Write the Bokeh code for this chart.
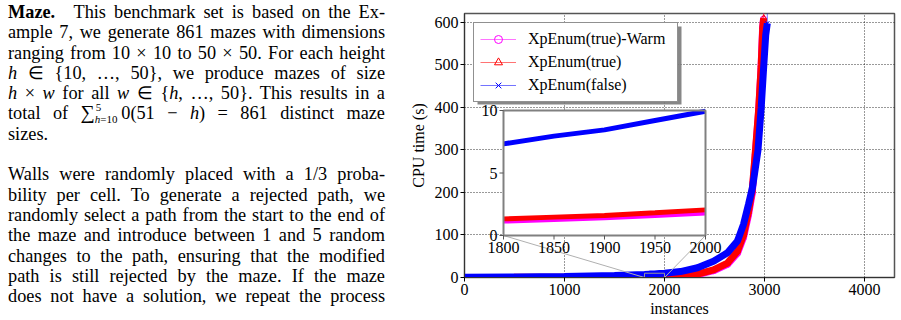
from bokeh.plotting import figure
from bokeh.models import Range1d, Legend, LegendItem, Div, FixedTicker
from bokeh.layouts import row
from bokeh.embed import file_html
from bokeh.resources import INLINE
from bokeh.core.properties import value

FONT = "Liberation Serif"

# ---------------- data ----------------
series_labels = ["XpEnum(true)-Warm", "XpEnum(true)", "XpEnum(false)"]

warm_x = [0, 500, 1000, 1500, 1800, 1850, 1900, 1950, 2000, 2160, 2330, 2490, 2630,
          2730, 2790, 2840, 2877, 2908, 2941, 2965, 2981, 2990, 2991]
warm_y = [0.08, 0.25, 0.5, 0.85, 1.15, 1.28, 1.42, 1.6, 1.79, 3.5, 7, 16, 31,
          57, 94, 147, 197, 290, 390, 490, 588, 608, 5000]

true_x = [0, 500, 1000, 1500, 1800, 1850, 1900, 1950, 2000, 2160, 2330, 2490, 2630,
          2730, 2790, 2840, 2877, 2910, 2943, 2967, 2983, 2992, 2993]
true_y = [0.1, 0.3, 0.6, 1.0, 1.33, 1.47, 1.6, 1.82, 2.05, 4, 8, 18, 34,
          62, 100, 155, 205, 300, 400, 500, 590, 610, 5000]

false_x = [0, 500, 1000, 1500, 1800, 1850, 1900, 1950, 2000, 2160, 2330, 2490, 2630,
           2730, 2790, 2840, 2880, 2935, 2967, 2993, 3012, 3028, 3033]
false_y = [0.3, 1.0, 2.2, 4.5, 7.33, 7.95, 8.45, 9.2, 9.94, 14, 23, 38, 58,
           86, 125, 172, 212, 300, 400, 500, 570, 598, 5000]

x_ticks = [0, 1000, 2000, 3000, 4000]
y_ticks = [0, 100, 200, 300, 400, 500, 600]
inset_x_ticks = [1800, 1850, 1900, 1950, 2000]
inset_y_ticks = [0, 5, 10]

colors = ["#ff00ff", "#ff0000", "#0000ff"]
markers = ["circle", "triangle", "x"]

# ---------------- main figure ----------------
X0, X1 = 0, 4300
Y0, Y1 = 0, 621
FRAME_L, FRAME_T, FRAME_W, FRAME_H = 64, 13, 430, 264   # inside the figure (px)

p = figure(width=501, height=320, x_range=Range1d(X0, X1), y_range=Range1d(Y0, Y1),
           output_backend="svg", toolbar_location=None,
           min_border_left=FRAME_L, min_border_right=7, min_border_top=FRAME_T,
           min_border_bottom=43)
p.background_fill_color = "white"
p.border_fill_color = "white"
p.outline_line_color = "#555555"
p.outline_line_width = 1.5

for ax, ticks in ((p.xaxis, x_ticks), (p.yaxis, y_ticks)):
    ax.ticker = FixedTicker(ticks=ticks)
    ax.major_label_text_font = FONT
    ax.major_label_text_font_size = "16px"
    ax.major_label_text_color = "black"
    ax.axis_label_text_font = FONT
    ax.axis_label_text_font_size = "16px"
    ax.axis_label_text_font_style = "normal"
    ax.axis_label_text_color = "black"
    ax.minor_tick_line_color = None
    ax.major_tick_in = 0
    ax.major_tick_out = 4
    ax.major_tick_line_color = "black"
    ax.axis_line_color = "#333333"
    ax.major_label_standoff = 2
p.xaxis.axis_label = "instances"
p.yaxis.axis_label = "CPU time (s)"
p.xaxis.axis_label_standoff = 2
p.yaxis.axis_label_standoff = 5

p.grid.grid_line_color = "black"
p.grid.grid_line_dash = "1 2"
p.grid.grid_line_alpha = 0.8


def px_to_main(px, py):
    """frame pixel offsets (from frame top-left) -> main data coordinates"""
    return X0 + px / FRAME_W * (X1 - X0), Y1 - py / FRAME_H * (Y1 - Y0)


# ---------------- inset ranges (share the frame, map the inset box) ----------------
IN_L, IN_R, IN_T, IN_B = 39, 241, 97, 222        # inset box inside the frame (px)
ux = (inset_x_ticks[-1] - inset_x_ticks[0]) / (IN_R - IN_L)
uy = (inset_y_ticks[-1] - inset_y_ticks[0]) / (IN_B - IN_T)
ix0 = inset_x_ticks[0] - IN_L * ux
ix1 = ix0 + FRAME_W * ux
iy0 = inset_y_ticks[0] - (FRAME_H - IN_B) * uy
iy1 = iy0 + FRAME_H * uy
p.extra_x_ranges = {"ix": Range1d(ix0, ix1)}
p.extra_y_ranges = {"iy": Range1d(iy0, iy1)}


def inset_to_main(xi, yi):
    fx = (xi - ix0) / (ix1 - ix0)
    fy = (yi - iy0) / (iy1 - iy0)
    return X0 + fx * (X1 - X0), Y0 + fy * (Y1 - Y0)


# legend shadow (legend box: 9 px from frame, ~204 x 78 px, shadow offset 4 px)
LEG_M, LEG_W, LEG_H, SH = 9, 204, 78, 4
sl, st = px_to_main(LEG_M + SH, LEG_M + SH)
sr, sb = px_to_main(LEG_M + LEG_W + SH, LEG_M + LEG_H + SH)
p.quad(left=[sl], right=[sr], top=[st], bottom=[sb], fill_color="#7a7a7a",
       fill_alpha=0.9, line_color=None)

# ---------------- main series ----------------
legend_items = []
for lab, xs, ys, c, m in zip(series_labels, [warm_x, true_x, false_x],
                              [warm_y, true_y, false_y], colors, markers):
    sc = p.scatter(xs[:-1], ys[:-1], marker=m, size=6, line_color=c,
                   fill_color=None, line_width=1)
    p.line(xs[:-1], ys[:-1], line_color=c, line_width=7)
    thin = p.line(xs, ys, line_color=c, line_width=1, line_alpha=0.55)
    legend_items.append(LegendItem(label=lab, renderers=[thin, sc]))

# zoom indicator + connectors
xa, xb = inset_x_ticks[0], inset_x_ticks[-1]
ya, yb = inset_y_ticks[0], inset_y_ticks[-1]
p.quad(left=[xa], right=[xb], bottom=[ya], top=[yb], fill_color=None,
       line_color="#999999", line_width=1)
c0 = inset_to_main(xa, ya)
c1 = inset_to_main(xb, ya)
p.segment(x0=[xa, xb], y0=[ya, ya], x1=[c0[0], c1[0]], y1=[c0[1], c1[1]],
          line_color="#b0b0b0", line_width=1)

# ---------------- inset ----------------
p.quad(left=[xa], right=[xb], bottom=[ya], top=[yb], fill_color="white",
       line_color=None, x_range_name="ix", y_range_name="iy")
for xs, ys, c in zip([warm_x, true_x, false_x], [warm_y, true_y, false_y], colors):
    sel = [i for i, v in enumerate(xs) if xa <= v <= xb]
    p.line([xs[i] for i in sel], [ys[i] for i in sel], line_color=c, line_width=5,
           x_range_name="ix", y_range_name="iy")
p.quad(left=[xa], right=[xb], bottom=[ya], top=[yb], fill_color=None,
       line_color="#808080", line_width=2, x_range_name="ix", y_range_name="iy")
p.segment(x0=inset_x_ticks, y0=[ya] * len(inset_x_ticks), x1=inset_x_ticks,
          y1=[ya - 4 * uy] * len(inset_x_ticks), line_color="#555555", line_width=1,
          x_range_name="ix", y_range_name="iy")
p.segment(x0=[xa] * len(inset_y_ticks), y0=inset_y_ticks,
          x1=[xa - 4 * ux] * len(inset_y_ticks), y1=inset_y_ticks,
          line_color="#555555", line_width=1, x_range_name="ix", y_range_name="iy")
p.text(x=inset_x_ticks, y=[ya] * len(inset_x_ticks), text=[str(t) for t in inset_x_ticks],
       text_font=value(FONT), text_font_size="16px", text_color="black",
       text_align="center", text_baseline="middle", y_offset=12,
       x_range_name="ix", y_range_name="iy")
p.text(x=[xa] * len(inset_y_ticks), y=inset_y_ticks, text=[str(t) for t in inset_y_ticks],
       text_font=value(FONT), text_font_size="16px", text_color="black",
       text_align="right", text_baseline="middle", x_offset=-6,
       x_range_name="ix", y_range_name="iy")

# ---------------- legend ----------------
legend = Legend(items=legend_items, location="top_left", margin=LEG_M, padding=6,
                spacing=3, glyph_width=36, glyph_height=20, label_height=20,
                label_width=143, label_standoff=12, label_text_font=FONT,
                label_text_font_size="16px",
                label_text_color="black", border_line_color="#222222",
                border_line_width=1, background_fill_color="white",
                background_fill_alpha=1.0)
p.add_layout(legend)

# ---------------- left text column ----------------
LH = "20.3px"
J = f"text-align:justify;text-align-last:justify;height:{LH};line-height:{LH};"
L = f"text-align:left;height:{LH};line-height:{LH};"
lines1 = [
    "<b>Maze.</b>&emsp;This benchmark set is based on the Ex-",
    "ample 7, we generate 861 mazes with dimensions",
    "ranging from 10 × 10 to 50 × 50. For each height",
    "<i>h</i> ∈ {10, …, 50}, we produce mazes of size",
    "<i>h</i> × <i>w</i> for all <i>w</i> ∈ {<i>h</i>, …, 50}. This results in a",
    "total of <span style='font-size:20px;line-height:0;'>∑</span>"
    "<span style='position:relative;top:4px;font-size:11px;line-height:0;'>"
    "<span style='position:absolute;left:1px;top:-6px;'>5</span><i>h</i>=10</span>"
    "&thinsp;0(51 − <i>h</i>) = 861 distinct maze",
]
last1 = "sizes."
lines2 = [
    "Walls were randomly placed with a 1/3 proba-",
    "bility per cell. To generate a rejected path, we",
    "randomly select a path from the start to the end of",
    "the maze and introduce between 1 and 5 random",
    "changes to the path, ensuring that the modified",
    "path is still rejected by the maze. If the maze",
    "does not have a solution, we repeat the process",
]
html = ("<div style=\"font-family:'Liberation Serif',serif;font-size:18.3px;color:black;"
        "width:385px;padding-left:8px;padding-top:2px;\">")
html += "".join(f"<div style='{J}'>{t}</div>" for t in lines1)
html += f"<div style='{L}'>{last1}</div>"
html += f"<div style='height:{LH};'></div>"
html += "".join(f"<div style='{J}'>{t}</div>" for t in lines2)
html += "</div>"
div = Div(text=html, width=400, height=320, margin=0)

layout = row(div, p, spacing=0)
open("out.html", "w").write(file_html(layout, INLINE))
